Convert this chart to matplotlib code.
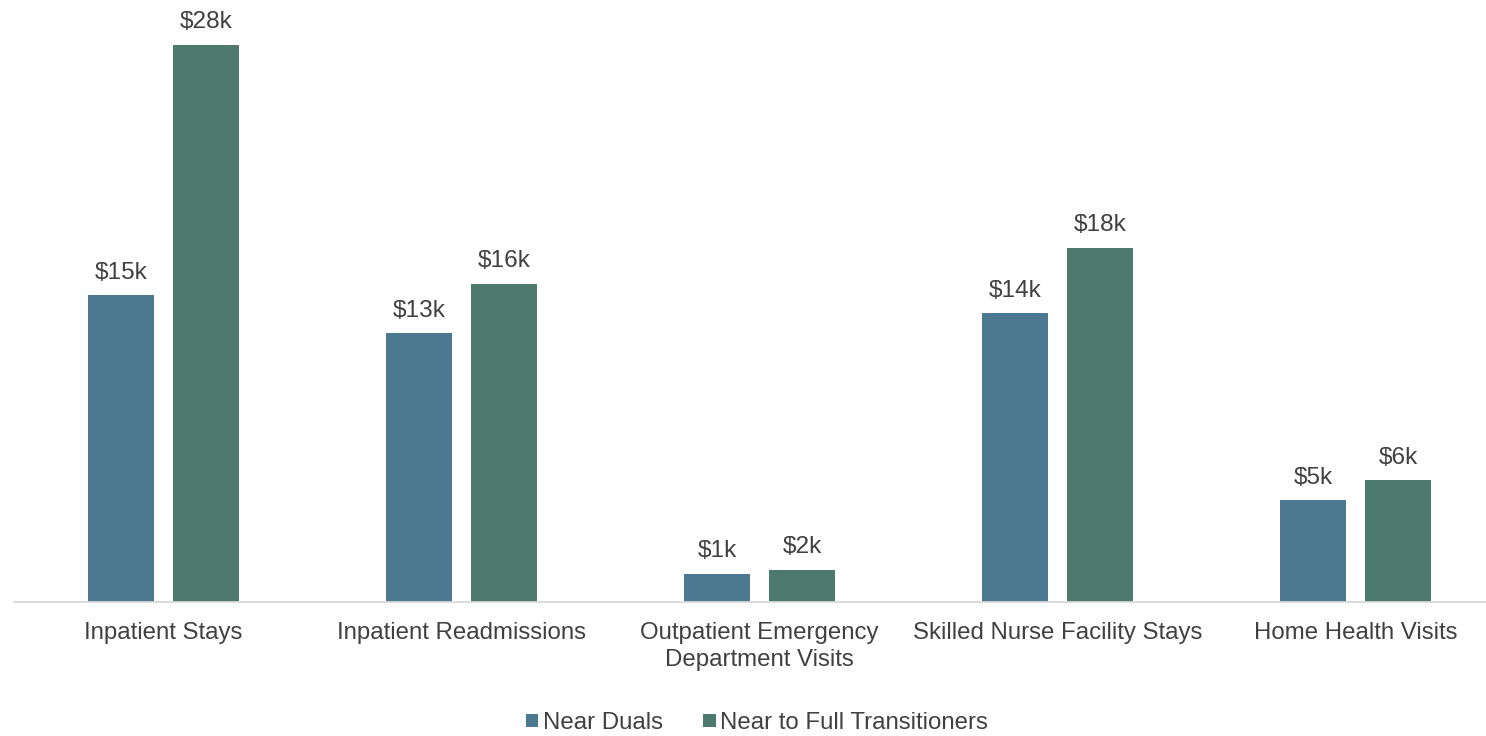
import matplotlib
matplotlib.use("Agg")
import matplotlib.pyplot as plt
import numpy as np

categories = ["Inpatient Stays", "Inpatient Readmissions",
              "Outpatient Emergency\nDepartment Visits",
              "Skilled Nurse Facility Stays", "Home Health Visits"]
near_duals = [15.4, 13.5, 1.4, 14.5, 5.1]
near_to_full = [28.0, 16.0, 1.6, 17.8, 6.1]
near_duals_labels = ["$15k", "$13k", "$1k", "$14k", "$5k"]
near_to_full_labels = ["$28k", "$16k", "$2k", "$18k", "$6k"]
series_names = ["Near Duals", "Near to Full Transitioners"]

plt.rcParams['font.family'] = ['Liberation Sans', 'DejaVu Sans']
TXT = "#404040"
C1 = "#4C7891"
C2 = "#4E7A6D"

W, H = 1486, 736
fig = plt.figure(figsize=(W/100, H/100), dpi=100)
left = 14.3 / W
right = 1504.9 / W
bottom = (H - 601.5) / H
top = (H - (601.5 - 30 * 19.875)) / H
ax = fig.add_axes([left, bottom, right - left, top - bottom])

x = np.arange(len(categories))
bw = 0.2215
off = 0.143
b1 = ax.bar(x - off, near_duals, bw, color=C1, label=series_names[0])
b2 = ax.bar(x + off, near_to_full, bw, color=C2, label=series_names[1])
for rects, labs in ((b1, near_duals_labels), (b2, near_to_full_labels)):
    for r, l in zip(rects, labs):
        ax.annotate(l, (r.get_x() + r.get_width()/2, r.get_height()),
                    xytext=(0, 8.3), textcoords="offset points",
                    ha="center", va="bottom", fontsize=17.6, color=TXT)

ax.set_xlim(-0.5, len(categories) - 0.5)
ax.set_ylim(0, 30)
ax.set_xticks(x)
ax.set_xticklabels(categories, fontsize=17.3, color=TXT, linespacing=1.3)
ax.tick_params(axis='x', length=0, pad=15)
ax.set_yticks([])
for s in ["top", "right", "left"]:
    ax.spines[s].set_visible(False)
ax.spines["bottom"].set_color("#D9D9D9")
ax.spines["bottom"].set_linewidth(1.3)

leg = fig.legend(handles=[b1, b2], labels=series_names, loc="center",
                 bbox_to_anchor=(757/W, 1 - 723/H), ncol=2, frameon=False,
                 fontsize=17.3, handlelength=0.5, handleheight=0.5,
                 handletextpad=0.2, columnspacing=1.7, borderpad=0.1)
for t in leg.get_texts():
    t.set_color(TXT)

fig.savefig("out.png", dpi=100)
